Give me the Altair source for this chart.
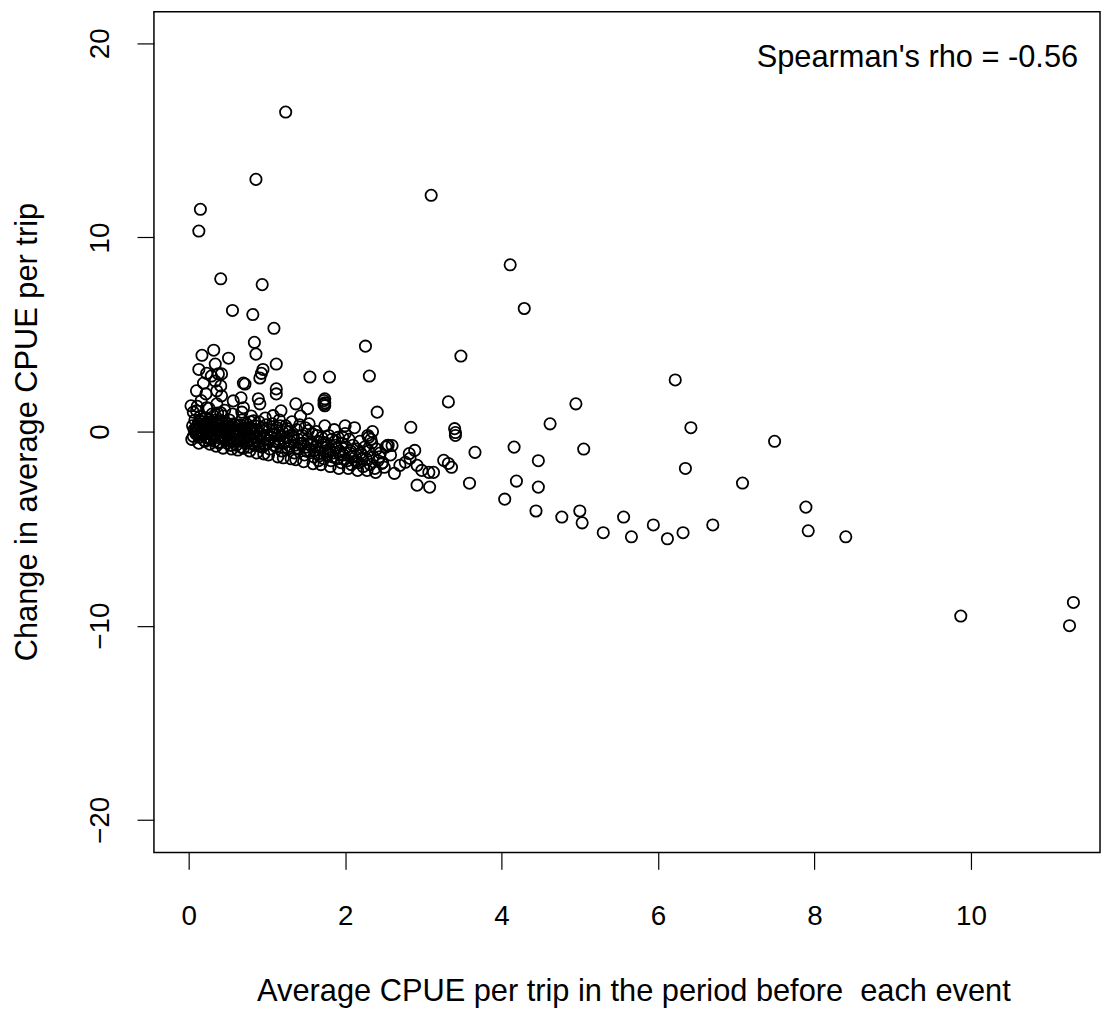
import altair as alt
import pandas as pd

# Outlying / scattered points (x = average CPUE before, y = change)
outer_x = [1.24, 0.86, 3.10, 0.15, 0.13, 4.11, 0.41, 0.94, 4.29, 0.56, 0.82, 1.09, 0.84, 2.26,
           0.86, 3.48, 0.51, 0.17, 0.32, 1.12, 0.95, 0.93, 0.91, 1.55, 1.80, 2.31, 6.22, 3.32,
           4.95, 1.73, 1.73, 6.42, 4.62, 3.40, 3.41, 3.41, 2.84, 2.41, 7.49, 5.05, 4.16, 3.66,
           6.35, 4.47, 3.59, 4.19, 7.08, 4.47, 4.04, 7.89, 4.44, 5.00, 5.03, 4.77, 5.56, 5.30,
           5.94, 5.66, 6.12, 6.32, 6.70, 7.92, 8.40, 9.87, 11.26, 11.31]
outer_y = [16.46, 12.99, 12.17, 11.45, 10.33, 8.59, 7.87, 7.57, 6.34, 6.24, 6.03, 5.32, 4.60, 4.40,
           3.99, 3.89, 3.78, 3.93, 4.19, 3.48, 3.20, 3.00, 2.76, 2.81, 2.81, 2.86, 2.66, 1.53,
           1.43, 1.60, 1.40, 0.20, 0.40, 0.15, -0.05, -0.20, 0.22, 1.00, -0.50, -0.90, -0.80, -1.07,
           -1.90, -1.50, -2.66, -2.55, -2.65, -2.86, -3.48, -3.89, -4.09, -4.09, -4.70, -4.40, -4.40, -5.21,
           -4.81, -5.42, -5.52, -5.21, -4.81, -5.11, -5.42, -9.50, -10.00, -8.80]

# Upper-left scatter above the dense band
upper_x = [0.13, 0.34, 0.23, 0.29, 0.38, 0.19, 0.34, 0.41, 0.70, 0.10, 0.22, 0.36, 0.42, 1.12,
           1.12, 0.67, 0.89, 0.91, 1.74, 1.74, 1.74, 0.03, 0.10, 0.23, 0.36, 0.41, 1.37, 1.52,
           0.57, 0.70, 1.18, 1.08, 2.00, 0.42, 0.72]
upper_y = [3.20, 3.48, 3.00, 2.86, 2.97, 2.50, 2.60, 2.35, 2.50, 2.10, 1.94, 2.10, 1.84, 2.20,
           1.94, 1.74, 1.69, 1.43, 1.69, 1.48, 1.33, 1.33, 1.07, 1.23, 1.43, 0.97, 1.43, 1.18,
           1.58, 1.23, 1.07, 0.82, 0.30, 2.97, 2.45]

# Points to the right of the dense band (x 2.5 - 3.2)
mid_x = [2.54, 2.60, 2.82, 2.89, 2.83, 2.77, 2.70, 2.92, 2.98, 3.07, 3.13, 3.26, 3.32, 3.36,
         2.92, 3.08, 2.47, 2.50, 2.63]
mid_y = [-0.72, -0.72, -1.13, -0.97, -1.38, -1.58, -1.74, -1.74, -2.00, -2.10, -2.10, -1.48, -1.64, -1.84,
         -2.76, -2.86, -1.64, -1.84, -2.15]

# Dense band (x 0 - 2.6)
core_x = [0.05, 0.08, 0.10, 0.12, 0.12, 0.15, 0.15, 0.18, 0.18, 0.20, 0.22, 0.22, 0.25, 0.25, 0.28,
          0.28, 0.30, 0.30, 0.06, 0.09,
          0.32, 0.34, 0.35, 0.37, 0.38, 0.40, 0.42, 0.42, 0.45, 0.46, 0.48, 0.50, 0.52, 0.53, 0.55,
          0.56, 0.58, 0.58, 0.60, 0.44,
          0.62, 0.63, 0.65, 0.66, 0.68, 0.70, 0.71, 0.73, 0.74, 0.76, 0.78, 0.79, 0.80, 0.82, 0.84,
          0.85, 0.87, 0.88, 0.90, 0.90,
          0.92, 0.94, 0.95, 0.97, 0.98, 1.00, 1.01, 1.03, 1.04, 1.06, 1.07, 1.09, 1.10, 1.12, 1.13,
          1.15, 1.16, 1.18, 1.19, 1.20,
          1.22, 1.24, 1.25, 1.27, 1.28, 1.30, 1.32, 1.33, 1.35, 1.36, 1.38, 1.40, 1.41, 1.43, 1.45,
          1.46, 1.48, 1.49, 1.50, 1.52,
          1.54, 1.55, 1.57, 1.58, 1.60, 1.62, 1.63, 1.65, 1.66, 1.68, 1.70, 1.71, 1.73, 1.74, 1.76,
          1.77, 1.79, 1.80, 1.82, 1.83,
          1.85, 1.86, 1.88, 1.90, 1.91, 1.93, 1.95, 1.96, 1.98, 2.00, 2.01, 2.03, 2.05, 2.06, 2.08,
          2.10, 2.12,
          2.13, 2.15, 2.17, 2.19, 2.21, 2.23, 2.25, 2.27, 2.29, 2.30, 2.32, 2.34, 2.36, 2.38, 2.40,
          2.42, 2.45, 2.48, 2.52, 2.55, 2.58, 2.35, 2.30,
          0.07, 0.11, 0.14, 0.16, 0.19, 0.21, 0.24, 0.26, 0.29, 0.31, 0.33, 0.36, 0.39, 0.41, 0.43,
          0.47, 0.49, 0.51, 0.54, 0.57, 0.61, 0.64, 0.67, 0.69, 0.72, 0.75, 0.77, 0.81, 0.83, 0.86,
          0.04, 0.09, 0.13, 0.17, 0.20, 0.23, 0.27, 0.31, 0.35, 0.38, 0.44, 0.48, 0.52, 0.55, 0.59,
          0.63, 0.66, 0.70, 0.74, 0.78, 0.83, 0.87, 0.91, 0.96, 1.02, 1.08, 1.14, 1.21, 1.26, 1.31,
          1.37, 1.42, 1.47, 1.53, 1.59, 1.64, 1.69, 1.75, 1.81, 1.87, 1.92, 1.97, 2.04, 2.09, 2.16,
          2.22, 2.28, 2.33, 2.39, 2.44, 0.11, 0.16, 0.26, 0.37, 0.46, 0.56, 0.68, 0.79, 0.99, 1.17,
          0.06, 0.10, 0.14, 0.18, 0.22, 0.26, 0.30, 0.34, 0.38, 0.42, 0.46, 0.50, 0.54, 0.58, 0.62,
          0.66, 0.70, 0.74, 0.78, 0.82, 0.86, 0.90, 0.94, 0.98, 1.03, 1.09, 1.15, 1.23, 1.29, 1.34,
          1.39, 1.44, 1.51, 1.56, 1.61, 1.67, 1.72, 1.78, 1.84, 1.89, 1.94, 1.99, 2.07, 2.14, 2.20]
core_y = [0.3, 0.6, 0.0, 0.4, -0.2, 0.2, 0.8, -0.1, 0.5, 0.1, -0.3, 0.7, 0.3, -0.1, 0.0,
          0.5, -0.2, 0.9, 1.0, -0.1,
          0.2, -0.1, 0.6, -0.3, 0.3, 0.0, 0.5, -0.2, 0.1, -0.4, 0.3, -0.1, 0.6, -0.3, 0.2,
          -0.1, 0.4, -0.5, 0.0, 0.8,
          -0.2, 0.3, -0.5, 0.1, 0.6, -0.3, 0.0, -0.6, 0.4, -0.2, 0.2, -0.4, 0.8, -0.1, -0.7,
          0.3, -0.3, 0.0, -0.5, 0.5,
          -0.1, -0.8, 0.2, -0.4, 0.7, -0.2, -0.6, 0.1, -0.9, -0.3, 0.4, -0.5, -0.1, -0.8, 0.2,
          -0.4, 0.6, -0.2, -1.0, 0.0,
          -0.6, 0.3, -0.3, -0.9, 0.0, -0.5, 0.5, -0.2, -1.1, -0.7, 0.1, -0.4, -0.9, 0.8, -0.2,
          -0.6, -1.2, 0.2, -0.8, -0.4,
          0.4, -1.0, -0.6, -0.1, -1.3, -0.8, 0.0, -0.5, -1.5, -1.1, -0.3, -0.8, -1.4, 0.3, -0.6,
          -1.2, -0.2, -0.9, -1.5, -0.4,
          -1.1, 0.1, -0.7, -1.4, -0.3, -1.0, -1.6, -0.6, -1.2, -0.1, -0.8, -1.5, -0.4, -1.1, -1.7,
          -0.7, 0.2,
          -1.3, -0.9, -1.6, -0.5, -1.2, -1.8, -0.8, -1.4, -0.2, -1.0, -1.7, -0.6, -1.3, -1.9, -0.9,
          -1.5, -1.1, -1.6, -0.8, -0.7, -1.2, 0.0, -0.3,
          0.1, 0.3, -0.3, 0.0, 0.4, -0.5, 0.1, 0.6, -0.4, 0.4, -0.5, 0.1, -0.6, 0.2, -0.3,
          0.0, -0.6, 0.2, -0.7, 0.1, -0.7, 0.0, -0.8, 0.2, -0.4, 0.0, -0.8, 0.1, -0.5, 0.1,
          -0.4, 0.15, -0.6, 0.65, -0.45, 0.45, -0.65, 0.25, -0.75, 0.55, -0.85, 0.45, -0.45, -0.9, 0.35,
          -0.95, -0.35, -0.85, 0.15, -1.0, 0.55, -1.1, -0.25, -1.15, -1.2, 0.05, -1.3, -1.35, 0.15, -1.4,
          -1.45, 0.35, -1.55, 0.05, -1.65, -0.2, -1.7, -1.0, -1.8, -0.5, -1.9, -0.3, -1.9, -1.3, -2.0,
          -1.4, -2.0, -0.4, -2.1, -1.3, 1.3, 1.6, 1.2, 0.95, 1.1, 0.9, 1.0, 0.5, 0.35, 0.3,
          -0.25, 0.2, 0.55, -0.15, 0.25, -0.35, 0.05, 0.45, -0.55, 0.15, -0.25, 0.4, -0.7, -0.05, -0.45,
          0.35, -0.15, -0.5, 0.1, -0.6, -0.3, -0.75, 0.05, -0.65, -0.45, -0.7, -0.6, -0.5, -0.75, -0.3,
          -0.85, -0.6, -1.0, -0.7, -0.95, -1.25, -0.55, -1.05, -1.3, -0.85, -1.2, -1.45, -1.0, -1.55, -1.1]

x_ticks = [0, 2, 4, 6, 8, 10]
y_ticks = [-20, -10, 0, 10, 20]
note_text = ["Spearman's rho = -0.56"]
note_x = [11.37]
note_y = [18.8]

pts = pd.DataFrame({
    "before": outer_x + upper_x + mid_x + core_x,
    "change": outer_y + upper_y + mid_y + core_y,
})
note = pd.DataFrame({"x": note_x, "y": note_y, "label": note_text})

FONT = "Liberation Sans"

xscale = alt.Scale(domain=[-0.444, 11.65], nice=False, zero=False)
yscale = alt.Scale(domain=[-21.68, 21.63], nice=False, zero=False)

points = alt.Chart(pts).mark_point(
    shape="circle", filled=False, color="black", size=130, strokeWidth=1.8, opacity=1
).encode(
    x=alt.X("before:Q", scale=xscale,
            axis=alt.Axis(values=x_ticks, format="d",
                          title="Average CPUE per trip in the period before\u00a0 each event",
                          grid=False, domain=False, tickSize=17, tickColor="black", tickWidth=1.2,
                          labelFontSize=28, labelFont=FONT, labelColor="black", labelPadding=34,
                          titleFont=FONT, titleFontSize=31, titleFontWeight="normal", titleColor="black",
                          titleX=483, titleY=149, titleBaseline="alphabetic", titleAlign="center")),
    y=alt.Y("change:Q", scale=yscale,
            axis=alt.Axis(values=y_ticks, title="Change in average CPUE per trip",
                          grid=False, domain=False, tickSize=17, tickColor="black", tickWidth=1.2,
                          labelFontSize=28, labelFont=FONT, labelColor="black", labelAngle=270,
                          labelAlign="center", labelBaseline="alphabetic", labelPadding=29,
                          titleFont=FONT, titleFontSize=31, titleFontWeight="normal", titleColor="black",
                          titleAngle=270, titleX=-118, titleY=423, titleAlign="center",
                          titleBaseline="alphabetic")),
)

text = alt.Chart(note).mark_text(
    align="right", baseline="alphabetic", font=FONT, fontSize=31, color="black"
).encode(
    x=alt.X("x:Q", scale=xscale),
    y=alt.Y("y:Q", scale=yscale),
    text="label:N",
)

chart = alt.layer(points, text).properties(
    width=953, height=847,
    autosize=alt.AutoSizeParams(type="none"),
    padding={"left": 147, "top": 0, "right": 2, "bottom": 158},
).configure(background="white").configure_view(stroke="black", strokeWidth=1.5)

chart.save("out.html", embed_options={"renderer": "svg", "actions": False})
